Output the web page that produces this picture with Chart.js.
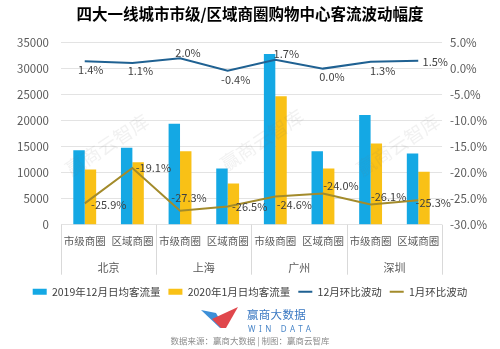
<!DOCTYPE html>
<html>
<head>
<meta charset="utf-8">
<script src="https://cdn.jsdelivr.net/npm/chart.js@4.4.1/dist/chart.umd.min.js"></script>
<style>
  html, body { margin: 0; padding: 0; background: #fff; }
  #wrap { position: relative; width: 500px; height: 349px; }
  #logo { position: absolute; left: 200px; top: 305px; width: 40px; height: 24px; }
  #brand { position: absolute; left: 247px; top: 306px; font: 11.5px "Noto Sans CJK SC", sans-serif; color: #3a78c2; letter-spacing: 0.3px; }
  #brandEn { position: absolute; left: 248px; top: 323px; font: 8px "Noto Sans", sans-serif; color: #4a86c8; letter-spacing: 3.6px; }
  #source { position: absolute; left: 0; width: 500px; top: 334px; text-align: center; font: 8.5px "Noto Sans CJK SC", sans-serif; color: #8c8c8c; }
</style>
</head>
<body>
<div id="wrap">
  <canvas id="chart" width="500" height="349"></canvas>
  <svg id="logo" viewBox="0 0 40 24">
    <polygon points="1,5 16,8 24,22 20,23" fill="#3d8fd8"/>
    <polygon points="12,14 38,2 26,23 21,23" fill="#e0474c"/>
  </svg>
  <div id="brand">赢商大数据</div>
  <div id="brandEn">WIN DATA</div>
  <div id="source">数据来源：赢商大数据 | 制图：赢商云智库</div>
</div>
<script>
const FONT = '"Noto Sans CJK SC", "Noto Sans", sans-serif';

const subLabels = ["市级商圈", "区域商圈", "市级商圈", "区域商圈", "市级商圈", "区域商圈", "市级商圈", "区域商圈"];
const cities = ["北京", "上海", "广州", "深圳"];

// average daily visitors
const dec2019 = [14300, 14800, 19400, 10800, 32800, 14100, 21100, 13700];
const jan2020 = [10600, 12000, 14100, 7900, 24700, 10800, 15600, 10200];

// month-on-month change, %
const decChange = [1.4, 1.1, 2.0, -0.4, 1.7, 0.0, 1.3, 1.5];
const janChange = [-25.9, -19.1, -27.3, -26.5, -24.6, -24.0, -26.1, -25.3];

// label offsets from each point (center of text)
const decLabelPos = [[6, 8], [8, 8], [8, -5], [8, 9], [11, -6], [9, 8], [12, 9], [17, 1]];
const janLabelPos = [[24, 1], [21, 0], [9, -13], [22, 0], [19, 8], [18, -8], [18, -8], [15, 3]];

const pointLabels = {
  id: "pointLabels",
  afterDatasetsDraw(chart) {
    const ctx = chart.ctx;
    ctx.save();
    ctx.font = "11px " + FONT;
    ctx.fillStyle = "#404040";
    ctx.textAlign = "center";
    ctx.textBaseline = "middle";
    [[2, decLabelPos], [3, janLabelPos]].forEach(([di, pos]) => {
      const meta = chart.getDatasetMeta(di);
      const vals = chart.data.datasets[di].data;
      meta.data.forEach((pt, i) => {
        ctx.fillText(vals[i].toFixed(1) + "%", pt.x + pos[i][0], pt.y + pos[i][1]);
      });
    });
    ctx.restore();
  }
};

// city group separators under the axis + faint watermark
const extras = {
  id: "extras",
  afterDraw(chart) {
    const ctx = chart.ctx;
    const xs = chart.scales.x;
    const bottom = chart.chartArea.bottom;
    const step = xs.width / subLabels.length;
    ctx.save();
    ctx.strokeStyle = "#d9d9d9";
    ctx.lineWidth = 1;
    for (let i = 0; i <= subLabels.length; i += 2) {
      const x = Math.round(xs.left + i * step) + 0.5;
      ctx.beginPath();
      ctx.moveTo(x, bottom);
      ctx.lineTo(x, bottom + 50);
      ctx.stroke();
    }
    ctx.font = "19px " + FONT;
    ctx.fillStyle = "rgba(120,120,120,0.1)";
    ctx.textAlign = "center";
    ctx.textBaseline = "middle";
    [[107, 145], [262, 140], [398, 145]].forEach(([x, y]) => {
      ctx.save();
      ctx.translate(x, y);
      ctx.rotate(-0.58);
      ctx.fillText("赢商云智库", 0, 0);
      ctx.restore();
    });
    ctx.restore();
  }
};

new Chart(document.getElementById("chart"), {
  type: "bar",
  data: {
    labels: subLabels,
    datasets: [
      {
        label: "2019年12月日均客流量",
        data: dec2019,
        backgroundColor: "#14a8e4",
        yAxisID: "y",
        order: 1,
        pointStyle: "rect",
        categoryPercentage: 0.48,
        barPercentage: 1
      },
      {
        label: "2020年1月日均客流量",
        data: jan2020,
        backgroundColor: "#f9c116",
        yAxisID: "y",
        order: 1,
        pointStyle: "rect",
        categoryPercentage: 0.48,
        barPercentage: 1
      },
      {
        type: "line",
        label: "12月环比波动",
        data: decChange,
        borderColor: "#1f6192",
        backgroundColor: "#1f6192",
        borderWidth: 2,
        pointRadius: 0,
        pointStyle: "line",
        tension: 0,
        yAxisID: "y1",
        order: 0
      },
      {
        type: "line",
        label: "1月环比波动",
        data: janChange,
        borderColor: "#a38b2b",
        backgroundColor: "#a38b2b",
        borderWidth: 2,
        pointRadius: 0,
        pointStyle: "line",
        tension: 0,
        yAxisID: "y1",
        order: 0
      }
    ]
  },
  options: {
    responsive: false,
    animation: false,
    layout: { padding: { left: 5, right: 5, bottom: 42 } },
    plugins: {
      title: {
        display: true,
        text: "四大一线城市市级/区域商圈购物中心客流波动幅度",
        color: "#000",
        font: { family: FONT, size: 15.5, weight: "bold" },
        padding: { top: 5, bottom: 19 }
      },
      legend: {
        position: "bottom",
        labels: {
          usePointStyle: true,
          pointStyleWidth: 14,
          boxHeight: 6,
          padding: 8,
          color: "#404040",
          font: { family: FONT, size: 10.5 },
          sort: (a, b) => a.datasetIndex - b.datasetIndex
        }
      },
      tooltip: { enabled: false }
    },
    scales: {
      x: {
        grid: { display: false, drawTicks: false },
        border: { display: false },
        ticks: { color: "#595959", font: { family: FONT, size: 10.5 }, padding: 10, maxRotation: 0, autoSkip: false }
      },
      xCity: {
        type: "category",
        labels: cities,
        position: "bottom",
        grid: { display: false, drawTicks: false },
        border: { display: false },
        ticks: { color: "#595959", font: { family: FONT, size: 11 }, padding: 4, maxRotation: 0, autoSkip: false }
      },
      y: {
        position: "left",
        min: 0,
        max: 35000,
        ticks: { stepSize: 5000, color: "#595959", font: { family: FONT, size: 11.5 }, padding: 12, callback: v => String(v) },
        grid: { color: "#e3e3e3", drawTicks: false },
        border: { display: false }
      },
      y1: {
        position: "right",
        min: -30,
        max: 5,
        ticks: {
          stepSize: 5,
          color: "#595959",
          font: { family: FONT, size: 11.5 },
          padding: 8,
          callback: v => v.toFixed(1) + "%"
        },
        grid: { drawOnChartArea: false, drawTicks: false },
        border: { display: false }
      }
    }
  },
  plugins: [pointLabels, extras]
});
</script>
</body>
</html>
